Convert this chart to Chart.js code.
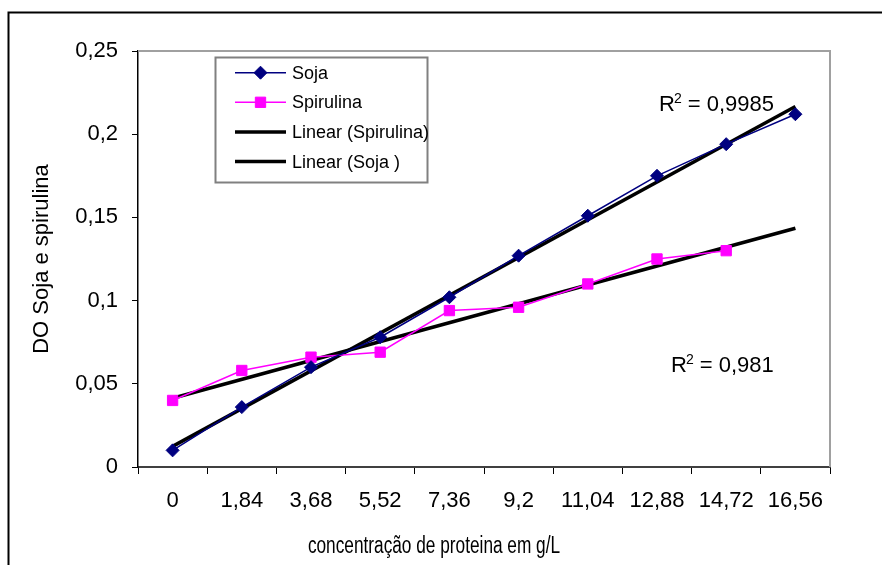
<!DOCTYPE html>
<html><head><meta charset="utf-8">
<script src="https://cdn.jsdelivr.net/npm/chart.js@4"></script>
<style>html,body{margin:0;padding:0;background:#fff;}#wrap{width:882px;height:565px;position:relative;}</style>
</head><body><div id="wrap"><canvas id="c" width="882" height="565"></canvas></div>
<script>
// ---- data ----
const categories = ['0','1,84','3,68','5,52','7,36','9,2','11,04','12,88','14,72','16,56'];
const sojaValues = [0.010,0.036,0.060,0.078,0.102,0.127,0.151,0.175,0.194,0.212];
const spirulinaValues = [0.040,0.058,0.066,0.069,0.094,0.096,0.110,0.125,0.130,null];
const sojaTrendEnds = [0.0124,0.2166];
const spirulinaTrendEnds = [0.0413,0.1435];
const yTickValues = [0,0.05,0.1,0.15,0.2,0.25];
const seriesLabels = ['Soja','Spirulina','Linear (Spirulina)','Linear (Soja )'];
const r2Labels = ['0,9985','0,981'];
const xTitle = 'concentração de proteina em g/L';
const yTitle = 'DO Soja e spirulina';

const SANS = "'Liberation Sans', Arial, sans-serif";
const fmt = v => String(+(+v).toFixed(2)).replace('.', ',');

const frame = {
  id:'frame',
  beforeDraw(chart){
    const ctx = chart.ctx;
    ctx.save();
    ctx.fillStyle = '#fff';
    ctx.fillRect(0,0,chart.width,chart.height);
    ctx.strokeStyle = '#000'; ctx.lineWidth = 2;
    ctx.beginPath();
    ctx.moveTo(8.5, chart.height); ctx.lineTo(8.5, 12.5); ctx.lineTo(chart.width, 12.5);
    ctx.stroke();
    ctx.restore();
  },
  beforeDatasetsDraw(chart){
    const {ctx, chartArea:a} = chart;
    ctx.save();
    ctx.strokeStyle = '#a0a0a0'; ctx.lineWidth = 2;
    ctx.beginPath();
    ctx.moveTo(a.left, a.top); ctx.lineTo(a.right, a.top); ctx.lineTo(a.right, a.bottom);
    ctx.stroke();
    ctx.restore();
  },
  afterDraw(chart){
    const ctx = chart.ctx;
    ctx.save();
    // x axis title (condensed, like Arial Narrow in the reference)
    ctx.fillStyle = '#000'; ctx.textBaseline = 'alphabetic'; ctx.textAlign = 'center';
    ctx.font = '23px ' + SANS;
    ctx.save();
    ctx.translate(434, 553);
    ctx.scale(0.75, 1);
    ctx.fillText(xTitle, 0, 0);
    ctx.restore();
    // legend box
    const lx = 215.5, ly = 57.5, lw = 212, lh = 125;
    ctx.fillStyle = '#fff'; ctx.fillRect(lx, ly, lw, lh);
    ctx.strokeStyle = '#808080'; ctx.lineWidth = 2;
    ctx.strokeRect(lx, ly, lw, lh);
    chart.data.datasets.forEach((ds, i) => {
      const cy = 72.7 + i * 29.6;
      ctx.strokeStyle = ds.borderColor; ctx.lineWidth = ds.borderWidth;
      ctx.beginPath(); ctx.moveTo(235, cy); ctx.lineTo(286, cy); ctx.stroke();
      if (ds.pointStyle && ds.pointRadius > 0) {
        ctx.fillStyle = ds.pointBackgroundColor; ctx.strokeStyle = ds.pointBorderColor;
        ctx.lineWidth = 1;
        Chart.helpers.drawPoint(ctx, {pointStyle: ds.pointStyle, radius: ds.pointRadius, rotation: 0, borderWidth: 1}, 260.5, cy);
      }
      ctx.fillStyle = '#000'; ctx.font = '18px ' + SANS;
      ctx.textBaseline = 'alphabetic'; ctx.textAlign = 'left';
      ctx.fillText(ds.label, 292, cy + 6);
    });
    // R² labels
    const drawR2 = (x, base, val) => {
      ctx.fillStyle = '#000'; ctx.textBaseline = 'alphabetic'; ctx.textAlign = 'left';
      ctx.font = '22px ' + SANS;
      ctx.fillText('R', x, base);
      let w = ctx.measureText('R').width;
      ctx.font = '14px ' + SANS;
      ctx.fillText('2', x + w - 1, base - 8);
      const w2 = ctx.measureText('2').width;
      ctx.font = '22px ' + SANS;
      ctx.fillText(' = ' + val, x + w - 1 + w2, base);
    };
    drawR2(659, 111, r2Labels[0]);
    drawR2(671, 372, r2Labels[1]);
    ctx.restore();
  }
};

new Chart(document.getElementById('c'), {
  type: 'line',
  data: {
    labels: categories,
    datasets: [
      { label: seriesLabels[0], data: sojaValues, borderColor: '#000080', backgroundColor: '#000080',
        pointBackgroundColor: '#000080', pointBorderColor: '#000080', borderWidth: 1.5,
        pointStyle: 'rectRot', pointRadius: 6.5, pointBorderWidth: 1, tension: 0, fill: false },
      { label: seriesLabels[1], data: spirulinaValues, borderColor: '#ff00ff', backgroundColor: '#ff00ff',
        pointBackgroundColor: '#ff00ff', pointBorderColor: '#ff00ff', borderWidth: 1.5,
        pointStyle: 'rect', pointRadius: 7.3, pointBorderWidth: 1, tension: 0, fill: false },
      { label: seriesLabels[2], data: [{x: categories[0], y: spirulinaTrendEnds[0]}, {x: categories[categories.length-1], y: spirulinaTrendEnds[1]}],
        borderColor: '#000', backgroundColor: '#000', borderWidth: 3.5, pointRadius: 0, pointStyle: false, tension: 0, fill: false },
      { label: seriesLabels[3], data: [{x: categories[0], y: sojaTrendEnds[0]}, {x: categories[categories.length-1], y: sojaTrendEnds[1]}],
        borderColor: '#000', backgroundColor: '#000', borderWidth: 3.5, pointRadius: 0, pointStyle: false, tension: 0, fill: false }
    ]
  },
  options: {
    responsive: false, animation: false, devicePixelRatio: 1,
    layout: { padding: { left: 0, right: 52, top: 51, bottom: 0 } },
    plugins: { legend: { display: false }, tooltip: { enabled: false } },
    scales: {
      x: {
        type: 'category', offset: true,
        grid: { offset: true, drawOnChartArea: false, drawTicks: true, tickLength: 7, color: '#000', lineWidth: 1 },
        border: { color: '#404040', width: 2 },
        ticks: { color: '#000', font: { family: SANS, size: 22 }, padding: 14, maxRotation: 0, autoSkip: false },
        title: { display: false },
        afterFit(s) { s.height = 98; }
      },
      y: {
        min: 0, max: 0.25,
        afterBuildTicks(s) { s.ticks = yTickValues.map(v => ({ value: v })); },
        grid: { drawOnChartArea: false, drawTicks: true, tickLength: 6, color: '#000' },
        border: { color: '#000', width: 1.5 },
        ticks: { color: '#000', font: { family: SANS, size: 22 }, padding: 14, callback: v => fmt(v) },
        title: { display: true, text: yTitle, color: '#000', font: { family: SANS, size: 22 }, padding: { top: 29, bottom: 0 } },
        afterFit(s) { s.width = 138; }
      }
    }
  },
  plugins: [frame]
});
</script></body></html>
